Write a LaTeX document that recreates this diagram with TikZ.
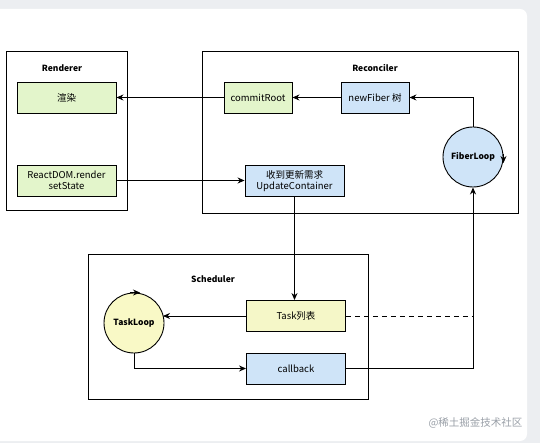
\documentclass[tikz,border=0pt]{standalone}
\usepackage{fontspec}
\setmainfont{Noto Sans CJK SC}
\usetikzlibrary{arrows.meta,calc}
\definecolor{bggray}{HTML}{ECEEF1}
\definecolor{gfill}{HTML}{E3F5CB}
\definecolor{bfill}{HTML}{CFE4F8}
\definecolor{yfill}{HTML}{F5F7C8}
\definecolor{cfill}{HTML}{F9F9C6}
\definecolor{wm}{HTML}{9AA0A8}
\tikzset{
  frame/.style={draw, line width=1pt},
  title/.style={font=\bfseries\fontsize{8.5}{10}\selectfont},
  box/.style={draw, line width=0.9pt, minimum width=99pt, minimum height=31pt, inner sep=0pt, align=center, font=\fontsize{9.5}{11.5}\selectfont},
  sbox/.style={box, minimum width=68pt},
  loop/.style={draw, circle, line width=0.9pt, minimum size=60pt, inner sep=0pt, font=\bfseries\fontsize{8.5}{10}\selectfont},
  arr/.style={line width=0.9pt, -{Stealth[length=7pt,width=6pt]}},
  conn/.style={line width=0.9pt}
}
\begin{document}
\begin{tikzpicture}[x=1pt,y=-1pt]
\useasboundingbox (0,0) rectangle (540,443);
\fill[bggray] (0,0) rectangle (540,443);
\fill[white, rounded corners=7pt] (-10,9) rectangle (527,441);
% frames
\draw[frame] (6,52) rectangle (127,211);
\draw[frame] (202,52) rectangle (518,214);
\draw[frame] (88,255) rectangle (368,399);
\node[title] (trend) at (62,68) {Renderer};
\node[title] (trec) at (375,68) {Reconciler};
\node[title] (tsch) at (213,279) {Scheduler};
% renderer
\node[box, fill=gfill] (r1) at (66.5,97.5) {渲染};
\node[box, fill=gfill] (r2) at (66.5,180.5) {ReactDOM.render\\setState};
% reconciler
\node[sbox, fill=gfill] (cr) at (258,97.5) {commitRoot};
\node[sbox, fill=bfill] (nf) at (375,97.5) {newFiber 树};
\node[loop, fill=bfill] (fl) at (473,157) {FiberLoop};
\node[box, fill=bfill] (uc) at (294.5,181) {收到更新需求\\UpdateContainer};
% scheduler
\node[loop, fill=cfill] (tl) at (134,323) {TaskLoop};
\node[box, fill=yfill] (tk) at (296,316) {Task列表};
\node[box, fill=bfill] (cb) at (296,368.5) {callback};
% connectors
\draw[arr] (cr.west) -- (r1.east);
\draw[arr] (nf.west) -- (cr.east);
\draw[arr] (fl.north) |- (nf.east);
\draw[arr] (r2.east) -- (r2.east -| uc.west);
\draw[arr] (uc.south) -- (uc.south |- tk.north);
\draw[arr] (tk.west) -- ($(tl.center |- tk.west)+(29,0)$);
\draw[arr] (tl.south) |- (cb.west);
\draw[arr] (cb.east) -| (fl.south);
\draw[conn, dashed, dash pattern=on 5pt off 4pt] (tk.east) -- (tk.east -| fl.south);
% loop marks
\draw[line width=0.9pt, -{Stealth[length=7pt,width=6pt]}] ($(fl.east)+(0,-3)$) -- ($(fl.east)+(0,6)$);
\draw[line width=0.9pt, -{Stealth[length=7pt,width=6pt]}] ($(tl.north)+(-4,0)$) -- ($(tl.north)+(6,0)$);
% watermark
\node[text=wm, font=\fontsize{10.5}{12}\selectfont, anchor=east] (wmk) at (526,423) {@稀土掘金技术社区};
\end{tikzpicture}
\end{document}
